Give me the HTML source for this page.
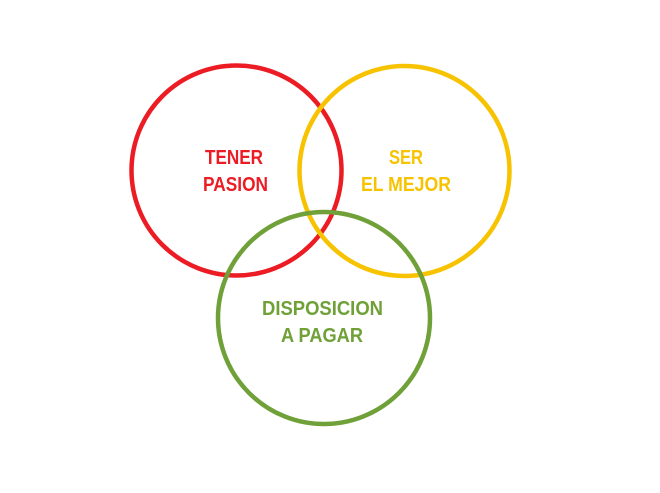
<!DOCTYPE html>
<html><head><meta charset="utf-8"><style>
html,body{margin:0;padding:0;background:#fff;}
svg{display:block;}
text{font-family:"Liberation Sans",sans-serif;font-weight:bold;font-size:20px;}
</style></head><body>
<svg width="660" height="493" viewBox="0 0 660 493" xmlns="http://www.w3.org/2000/svg">
<rect width="660" height="493" fill="#fff"/>
<circle cx="236.5" cy="170.5" r="105" fill="none" stroke="#ec1c24" stroke-width="4.5"/>
<circle cx="404.5" cy="171" r="105" fill="none" stroke="#f7c300" stroke-width="4.5"/>
<circle cx="324" cy="318" r="106" fill="none" stroke="#70a038" stroke-width="4.5"/>
<text x="205" y="164" fill="#ec1c24" textLength="58" lengthAdjust="spacingAndGlyphs">TENER</text>
<text x="203" y="191" fill="#ec1c24" textLength="65" lengthAdjust="spacingAndGlyphs">PASION</text>
<text x="389" y="164" fill="#f7c300" textLength="34" lengthAdjust="spacingAndGlyphs">SER</text>
<text x="361" y="191" fill="#f7c300" textLength="90" lengthAdjust="spacingAndGlyphs">EL MEJOR</text>
<text x="262" y="315" fill="#70a038" textLength="121" lengthAdjust="spacingAndGlyphs">DISPOSICION</text>
<text x="281" y="342" fill="#70a038" textLength="82" lengthAdjust="spacingAndGlyphs">A PAGAR</text>
</svg>
</body></html>
